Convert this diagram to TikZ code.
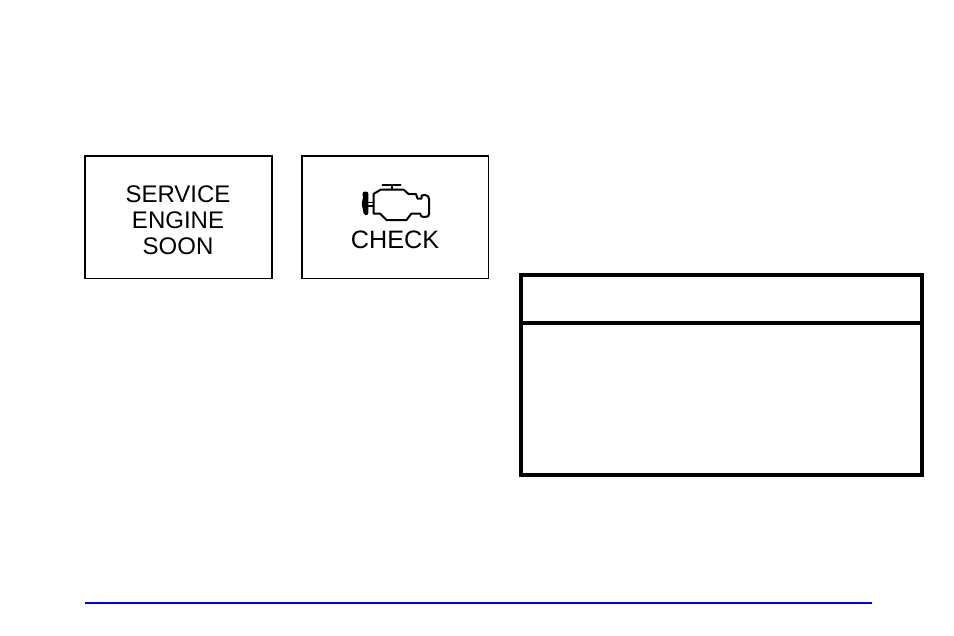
\documentclass[tikz,border=0pt]{standalone}
\usepackage{fontspec}
\setmainfont{Liberation Sans}
\definecolor{ruleblue}{RGB}{0,0,255}
\tikzset{
  lamp/.style={draw=black,line width=1.1pt,fill=white},
  lamptext/.style={font=\fontsize{18}{19.5}\selectfont,inner sep=0pt,align=center,text=black},
  checktext/.style={font=\fontsize{18.9}{20}\selectfont,inner sep=0pt,text=black},
  engine/.style={draw=black,line width=1.5pt,line join=round,line cap=round},
  notice/.style={draw=black,line width=3pt,fill=white}
}
\begin{document}
\begin{tikzpicture}[x=0.75pt,y=-0.75pt]
\useasboundingbox (0,0) rectangle (954,636);
\fill[white] (0,0) rectangle (954,636);
% lamps
\draw[lamp] (85,156) rectangle (272,278.6);
\draw[lamp] (302,156) rectangle (488.4,278.6);
\node[lamptext] (soon) at (178,220) {SERVICE\\ENGINE\\SOON};
\node[checktext] (check) at (395,240) {CHECK};
% engine symbol
\draw[engine] (373.5,195) -- (373.5,194) -- (381,189.5) -- (403.5,189.5) -- (408.5,194) -- (416,194) -- (417.5,198.5) -- (421.5,198.5) -- (421.5,195.5) -- (425,195) .. controls (428,195) and (429,197) .. (429,199) -- (429,214) .. controls (429,216) and (428,217) .. (425,217) -- (421.5,216.5) -- (420,213.5) -- (411.5,213.5) -- (406.5,220) -- (386.5,220) -- (380,213.5) -- (373.5,213.5) -- cycle;
\draw[engine] (382.5,185) -- (400.5,185);
\draw[engine] (391.5,185) -- (391.5,189.5);
\draw[line width=1pt] (367,202.5) -- (373.5,202.5) (367,206) -- (373.5,206);
\fill[black,rounded corners=1.5pt] (362.5,191.7) -- (368.3,191.7) -- (368.3,215) -- (363.5,215) -- (363,208) -- (361,204) -- (363,200) -- cycle;
% notice box
\draw[notice] (521,275) rectangle (922,475);
\draw[line width=3pt] (521,323) -- (922,323);
% footer rule
\draw[ruleblue,line width=1.5pt] (84.5,603) -- (872,603);
\end{tikzpicture}
\end{document}
